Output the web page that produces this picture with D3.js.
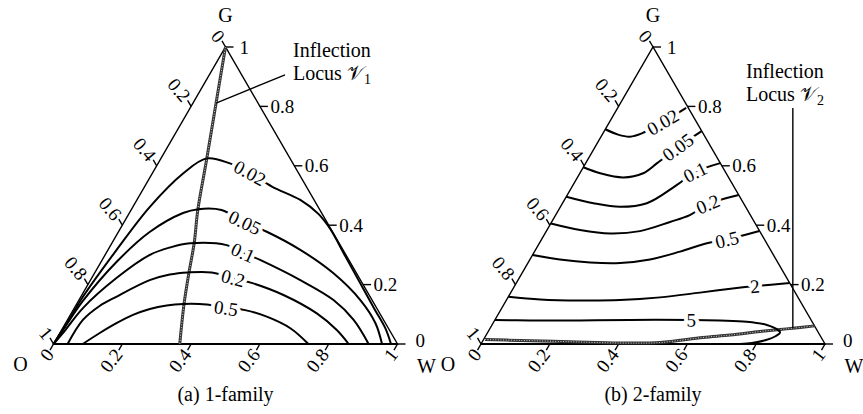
<!DOCTYPE html>
<html>
<head>
<meta charset="utf-8">
<script src="https://cdn.jsdelivr.net/npm/d3@7"></script>
<style>
  body { margin: 0; background: #fff; }
  text { font-family: "Liberation Serif", "Times New Roman", serif; fill: #000; }
</style>
</head>
<body>
<svg id="chart" width="863" height="414"></svg>
<script>
// Ternary axis ticks (fractions) and their labels
const axisTicks = [0, 0.2, 0.4, 0.6, 0.8, 1];
const tickLabels = ["0", "0.2", "0.4", "0.6", "0.8", "1"];
const vertexNames = { left: "O", right: "W", top: "G" };

// Every point below is [Sw, Sg] (water and gas saturation); So = 1 - Sw - Sg.

// (a) 1-family contour levels and curves
const levels1 = ["0.02", "0.05", "0.1", "0.2", "0.5"];
const c1_002 = [[0,0],[0.004,0.067],[0.006,0.158],[0.025,0.317],[0.049,0.461],[0.090,0.575],[0.133,0.625],[0.209,0.608],[0.283,0.576],[0.370,0.530],[0.475,0.485],[0.551,0.438],[0.611,0.387],[0.700,0.296],[0.789,0.205],[0.874,0.118],[0.940,0.051],[0.981,0]];
const c1_005 = [[0,0],[0.005,0.061],[0.013,0.145],[0.045,0.276],[0.091,0.377],[0.156,0.441],[0.194,0.454],[0.263,0.451],[0.352,0.409],[0.431,0.378],[0.559,0.317],[0.695,0.238],[0.818,0.148],[0.901,0.070],[0.955,0]];
const c1_01 = [[0,0],[0.011,0.047],[0.025,0.121],[0.072,0.222],[0.130,0.300],[0.176,0.325],[0.227,0.339],[0.337,0.333],[0.397,0.308],[0.459,0.283],[0.610,0.215],[0.740,0.148],[0.832,0.081],[0.916,0]];
const c1_02 = [[0.041,0],[0.045,0.081],[0.070,0.128],[0.103,0.159],[0.172,0.215],[0.221,0.234],[0.271,0.241],[0.339,0.241],[0.411,0.222],[0.479,0.204],[0.586,0.165],[0.714,0.103],[0.800,0.047],[0.858,0]];
const c1_05 = [[0.085,0],[0.116,0.037],[0.148,0.070],[0.182,0.098],[0.221,0.118],[0.264,0.130],[0.310,0.135],[0.379,0.133],[0.441,0.121],[0.500,0.114],[0.574,0.092],[0.662,0.053],[0.741,0]];
const labelAt1 = [[0.283,0.576],[0.352,0.409],[0.397,0.308],[0.411,0.222],[0.441,0.121]];
const locus1 = [[0,1],[0.067,0.811],[0.135,0.620],[0.194,0.451],[0.239,0.340],[0.273,0.242],[0.312,0.135],[0.367,0]];
const pointer1 = [[0.067,0.811],[0.220,0.906]];

// (b) 2-family contour levels and curves
const levels2 = ["0.02", "0.05", "0.1", "0.2", "0.5", "2", "5"];
const c2_002 = [[0,0.723],[0.046,0.705],[0.084,0.698],[0.113,0.709],[0.155,0.747],[0.199,0.795]];
const c2_005 = [[0,0.595],[0.059,0.575],[0.133,0.561],[0.184,0.575],[0.207,0.608],[0.241,0.663],[0.283,0.717]];
const c2_01 = [[0,0.496],[0.090,0.474],[0.173,0.462],[0.245,0.474],[0.301,0.535],[0.333,0.579],[0.391,0.609]];
const c2_02 = [[0,0.406],[0.096,0.384],[0.189,0.372],[0.272,0.380],[0.344,0.411],[0.390,0.434],[0.424,0.471],[0.498,0.502]];
const c2_05 = [[0,0.300],[0.087,0.2845],[0.180,0.2744],[0.268,0.2727],[0.349,0.2845],[0.423,0.311],[0.487,0.339],[0.539,0.352],[0.619,0.3805]];
const c2_2 = [[0,0.159],[0.097,0.150],[0.215,0.1465],[0.330,0.148],[0.442,0.157],[0.550,0.173],[0.666,0.191],[0.699,0.195],[0.795,0.205]];
const c2_5 = [[0,0.081],[0.103,0.079],[0.248,0.079],[0.393,0.081],[0.571,0.081],[0.655,0.079],[0.735,0.075],[0.799,0.064],[0.840,0.047],[0.850,0.039],[0.844,0.027],[0.822,0.0135],[0.786,0.0034],[0.753,0]];
const labelAt2 = [[0.155,0.747],[0.241,0.663],[0.333,0.579],[0.424,0.471],[0.539,0.352],[0.699,0.195],[0.571,0.081]];
const locus2 = [[0.004,0.015],[0.1075,0.012],[0.255,0.0077],[0.402,0.0034],[0.518,0.005],[0.634,0.022],[0.709,0.030],[0.790,0.042],[0.845,0.049],[0.880,0.053],[0.939,0.061]];
const pointer2 = [[0.880,0.053],[0.509,0.795]];

// Layout
const SIDE = 344, HEIGHT = 297, BASE_Y = 344;
const panels = [
  { ox: 53.5, caption: "(a) 1-family", levels: levels1, curves: [c1_002, c1_005, c1_01, c1_02, c1_05],
    labelAt: labelAt1, locus: locus1, pointer: pointer1, sub: "1", noteDX: 67.5, noteY: 56.5 },
  { ox: 481, caption: "(b) 2-family", levels: levels2, curves: [c2_002, c2_005, c2_01, c2_02, c2_05, c2_2, c2_5],
    labelAt: labelAt2, locus: locus2, pointer: pointer2, sub: "2", noteDX: 93, noteY: 78 }
];

const svg = d3.select("#chart");
const FS = 19;

panels.forEach(p => {
  const x = d3.scaleLinear().domain([0, 1]).range([p.ox, p.ox + SIDE]);
  const y = d3.scaleLinear().domain([0, 1]).range([BASE_Y, BASE_Y - HEIGHT]);
  const pt = d => [x(d[0] + d[1] / 2), y(d[1])];
  const straight = d3.line().x(d => pt(d)[0]).y(d => pt(d)[1]);
  const smooth = d3.line().x(d => pt(d)[0]).y(d => pt(d)[1]).curve(d3.curveCatmullRom.alpha(0.5));
  const g = svg.append("g");

  // triangle frame
  g.append("path").attr("d", straight([[0,0],[1,0],[0,1]]) + "Z")
    .attr("fill", "none").attr("stroke", "#000").attr("stroke-width", 1.4).attr("stroke-linejoin", "miter");
  g.append("path").attr("d", straight([[0,0],[1,0]]))
    .attr("fill", "none").attr("stroke", "#000").attr("stroke-width", 2.2);

  // right axis: Sg, horizontal ticks
  axisTicks.forEach((v, i) => {
    const P = pt([1 - v, v]);
    g.append("line").attr("x1", P[0]).attr("y1", P[1]).attr("x2", P[0] + 8).attr("y2", P[1])
      .attr("stroke", "#000").attr("stroke-width", 1.4);
    const off = v === 0 ? 18 : (v === 1 ? 14 : 10.5);
    const lift = v === 0 ? -4 : 0;
    g.append("text").attr("x", P[0] + off).attr("y", P[1] + lift).attr("dy", "0.35em")
      .attr("font-size", FS).text(tickLabels[i]);
  });

  // left axis: So, running from the G apex (0) down to the O corner (1)
  const ld = [-0.5, -0.866];
  axisTicks.forEach((v, i) => {
    const P = pt([0, 1 - v]);
    const E = [P[0] + 7 * ld[0], P[1] + 7 * ld[1]];
    g.append("line").attr("x1", P[0]).attr("y1", P[1]).attr("x2", E[0]).attr("y2", E[1])
      .attr("stroke", "#000").attr("stroke-width", 1.4);
    g.append("text").attr("transform", `translate(${E[0] + 1.5 * ld[0]},${E[1] + 1.5 * ld[1]}) rotate(50)`)
      .attr("text-anchor", "end").attr("dy", "0.35em").attr("font-size", FS).text(tickLabels[i]);
  });

  // bottom axis: Sw
  const bd = [-0.5, 0.866];
  axisTicks.forEach((v, i) => {
    const P = pt([v, 0]);
    const E = [P[0] + 7 * bd[0], P[1] + 7 * bd[1]];
    g.append("line").attr("x1", P[0]).attr("y1", P[1]).attr("x2", E[0]).attr("y2", E[1])
      .attr("stroke", "#000").attr("stroke-width", 1.4);
    g.append("text").attr("transform", `translate(${E[0] + 1 * bd[0]},${E[1] + 1 * bd[1]}) rotate(-52)`)
      .attr("text-anchor", "end").attr("dy", "0.35em").attr("font-size", FS).text(tickLabels[i]);
  });

  // vertex names
  const top = pt([0, 1]), left = pt([0, 0]), right = pt([1, 0]);
  g.append("text").attr("x", top[0]).attr("y", 22).attr("text-anchor", "middle").attr("font-size", 20).text(vertexNames.top);
  g.append("text").attr("x", left[0] - 33).attr("y", 371).attr("text-anchor", "middle").attr("font-size", 20).text(vertexNames.left);
  g.append("text").attr("x", right[0] + 29).attr("y", 373).attr("text-anchor", "middle").attr("font-size", 20).text(vertexNames.right);

  // inflection locus (textured grey line)
  g.append("path").attr("d", smooth(p.locus)).attr("fill", "none")
    .attr("stroke", "#333").attr("stroke-width", 3);
  g.append("path").attr("d", smooth(p.locus)).attr("fill", "none")
    .attr("stroke", "#ddd").attr("stroke-width", 0.9).attr("stroke-dasharray", "1 1.6");

  // contour curves
  p.curves.forEach(c => {
    g.append("path").attr("d", smooth(c)).attr("fill", "none")
      .attr("stroke", "#000").attr("stroke-width", 2);
  });

  // contour labels, set into gaps along each curve
  p.curves.forEach((c, i) => {
    const lp = p.labelAt[i];
    let k = d3.minIndex(c, d => (d[0] - lp[0]) ** 2 + (d[1] - lp[1]) ** 2);
    const a = pt(c[Math.max(0, k - 1)]), b = pt(c[Math.min(c.length - 1, k + 1)]);
    const ang = Math.atan2(b[1] - a[1], b[0] - a[0]) * 180 / Math.PI;
    const L = pt(lp);
    g.append("text").attr("transform", `translate(${L[0]},${L[1]}) rotate(${ang})`)
      .attr("text-anchor", "middle").attr("dy", "0.35em").attr("font-size", FS)
      .attr("stroke", "#fff").attr("stroke-width", 8).attr("paint-order", "stroke")
      .attr("stroke-linejoin", "round")
      .text(p.levels[i]);
  });

  // pointer to the inflection locus
  g.append("path").attr("d", straight(p.pointer)).attr("fill", "none")
    .attr("stroke", "#000").attr("stroke-width", 1.4);

  // note text
  const nx = top[0] + p.noteDX;
  g.append("text").attr("x", nx).attr("y", p.noteY).attr("font-size", 20).text("Inflection");
  const t2 = g.append("text").attr("x", nx).attr("y", p.noteY + 23).attr("font-size", 20);
  t2.append("tspan").text("Locus ");
  t2.append("tspan").text("\u{1D4B1}");
  t2.append("tspan").attr("font-size", 14).attr("dy", 4).text(p.sub);

  // caption
  g.append("text").attr("x", x(0.5)).attr("y", 401).attr("text-anchor", "middle")
    .attr("font-size", 20).text(p.caption);
});
</script>
</body>
</html>
